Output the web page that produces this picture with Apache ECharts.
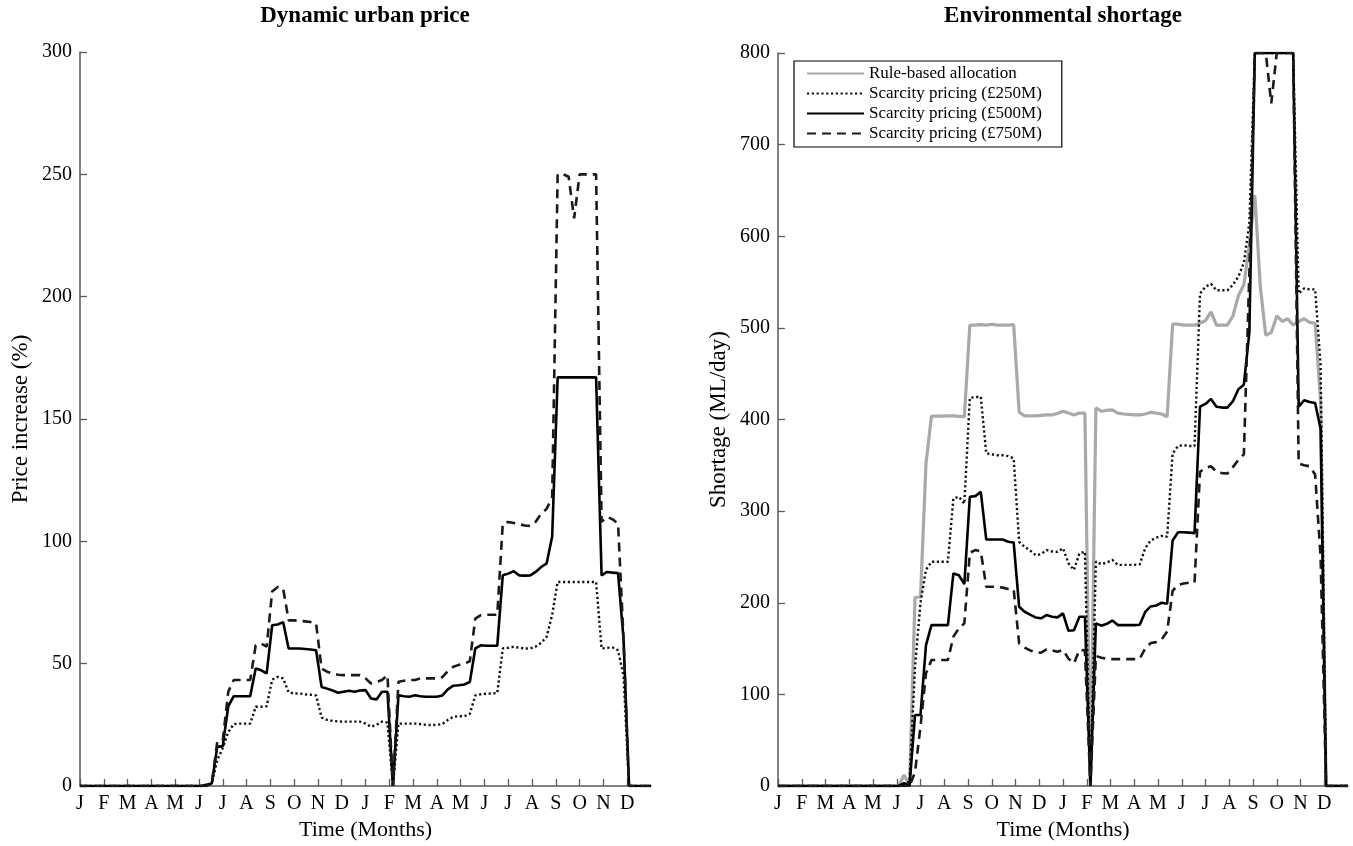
<!DOCTYPE html>
<html><head><meta charset="utf-8">
<script src="https://cdn.jsdelivr.net/npm/echarts@6/dist/echarts.min.js"></script>
<style>html,body{margin:0;padding:0;background:#fff}#c{width:1353px;height:846px}</style>
</head><body><div id="c"></div>
<script>
// ---- tick labels (month initials, two years) ----
const monthLabels = ['J','F','M','A','M','J','J','A','S','O','N','D','J','F','M','A','M','J','J','A','S','O','N','D'];
// ---- weekly sample index (104 weeks over 24 months) ----
const weekCount = 104;
const weekIndex = Array.from({length: weekCount + 1}, (_, i) => i);

// ---- Dynamic urban price (%) ----
const urban250 = [
 0,0,0,0,0,0,0,0,0,0, 0,0,0,0,0,0,0,0,0,0,
 0,0,0,0,1,10.6,15.5,22,25.3,25.5,
 25.5,25.5,32.4,32.4,32.6,43.5,44.6,44,38.3,37.8,
 37.8,37.5,37.3,37,28,27,26.6,26.4,26.3,26.3,
 26.3,26.3,25.5,24.2,25,26.3,25.9,0,25.5,25.5,
 25.5,25.5,25.3,25,24.9,25,25.3,27,28.3,28.5,
 28.5,29.5,37,37.5,37.7,37.8,38,56.2,56.5,56.9,
 56.5,56.2,56.2,57,58.5,61,70,83.4,83.4,83.4,
 83.4,83.4,83.4,83.4,83.4,56.2,56.5,56.6,55.5,45,
 0,0,0,0,0];
const urban500 = [
 0,0,0,0,0,0,0,0,0,0, 0,0,0,0,0,0,0,0,0,0,
 0,0,0,0.5,1,16,16.3,32.5,36.7,36.7,
 36.7,36.7,48,47.3,46,65.7,66,67,56.2,56.2,
 56.2,56,55.8,55.5,40.5,39.8,39,38.1,38.5,38.9,
 38.5,39,39.2,35.8,35.4,38.5,38.5,0,37.1,36.7,
 36.5,37.1,36.7,36.5,36.5,36.5,37,39.5,41,41.2,
 41.5,42.5,56.2,57.5,57.3,57.3,57.3,86.1,86.8,87.8,
 86.1,86,86.1,87.5,89.5,91,102,167,167,167,
 167,167,167,167,167,86.1,87.5,87.2,87,60,
 0,0,0,0,0];
const urban750 = [
 0,0,0,0,0,0,0,0,0,0, 0,0,0,0,0,0,0,0,0,0,
 0,0,0,0,1,18,18.5,38.5,43.3,43.3,
 43.3,43.3,57.5,58.2,57,79.5,81.3,80.7,67.7,67.7,
 67.5,67.3,67,66.5,48,46.7,46,45.5,45.3,45.3,
 45.3,45.3,44,41.9,42.5,43.3,45.3,0,42.6,43,
 43.3,43.3,44,44,44,44,44.5,47,48.7,49.5,
 50,51,68.4,69.8,70,70,70,107.2,107.9,107.5,
 107,106.5,106.3,108,111.3,113.3,118,250,250,249,
 232,250,250,250,250,108,110,109,107.2,60,
 0,0,0,0,0];

// ---- Environmental shortage (ML/day) ----
const envRule = [
 0,0,0,0,0,0,0,0,0,0, 0,0,0,0,0,0,0,0,0,0,
 0,0,0,12,1,206,206,352,403.6,403.6,
 403.6,404,404,403.5,403,503,503,503.5,503,504,
 503,503,503,503.5,408,404,404,404,404.5,405,
 405,406.5,409,407,405,407,407,0,412.6,409,
 410,410.5,407,406,405.5,405,405,406,408,407,
 406,403,504,504,503,503,503,505,508,517.5,
 503,503,503,513,535,547,590,645,545,492,
 495,513,507,510,503,507,510,506,505,420,
 0,0,0,0,0];
const env250 = [
 0,0,0,0,0,0,0,0,0,0, 0,0,0,0,0,0,0,0,0,0,
 0,0,0,2,5,130,200,236,244.7,244.7,
 244.7,244.7,313.8,315.6,308,423.6,424.5,424.7,363,362,
 361,361,360,357.5,266.5,261,257,252,253,257.5,
 256,255.6,259.5,243,235.8,254,255.7,0,245,242,
 244,246.7,241.3,241.3,241.3,241.3,242,259.5,268,271,
 273,272,363,371,372,371,371,537.5,545,548,
 541,541,541,547,556,571,615,800,800,800,
 800,800,800,800,800,537.5,543,542,542,460,
 0,0,0,0,0];
const env500 = [
 0,0,0,0,0,0,0,0,0,0, 0,0,0,0,0,0,0,0,0,0,
 0,0,0,3,0,77.5,77.5,153.8,175.6,175.6,
 175.6,175.6,232,230,220.4,315.6,316.4,321,269,269,
 269,269,266.5,265.8,195.6,190.2,187,184,183,186.5,
 184.7,184,188.4,169.4,170,184.8,184.8,0,177.5,175,
 177,180.5,175.6,175.6,175.6,175.6,176,190,196,197,
 200,199,268,277,277,276.5,276,414,417,422.5,
 414,413,413,420,433,438,495,800,800,800,
 800,800,800,800,800,414,421,419,418,390,
 0,0,0,0,0];
const env750 = [
 0,0,0,0,0,0,0,0,0,0, 0,0,0,0,0,0,0,0,0,0,
 0,0,0,0,0,15,65,123,137.5,137.5,
 137.5,137.5,163,172,177.5,254.5,257.5,256,217.5,217.5,
 217.5,216.5,215,214.5,155.6,151,148,146,145.5,149,
 148,146.5,148.4,139,133.8,148.5,148,0,142,140,
 139,138.5,138.5,138.5,138.5,138.5,139,150,156,157,
 160,168.5,213,219.5,221,222,222,343,347,349,
 343,341.5,341,348,356,362,560,800,800,800,
 745,800,800,800,800,352,350,349,340,250,
 0,0,0,0,0];

const seriesNames = ['Rule-based allocation','Scarcity pricing (£250M)','Scarcity pricing (£500M)','Scarcity pricing (£750M)'];

const FONT = "'Liberation Serif','Times New Roman',serif";
const AXIS_COLOR = '#5a5a5a';
const monthTicks = monthLabels.map((_, i) => i);

function pairs(vals) {
  return weekIndex.map((w, i) => [w * monthLabels.length / weekCount, vals[i]]);
}

const lineStyles = {
  rule: {color: '#a9a9a9', width: 3.2, type: 'solid'},
  p250: {color: '#111', width: 2.4, type: [2.2, 2.6], cap: 'butt'},
  p500: {color: '#000', width: 2.6, type: 'solid'},
  p750: {color: '#1a1a1a', width: 2.6, type: [9, 6], cap: 'butt'}
};

function mkSeries(name, vals, style, axisIdx, z) {
  return {
    type: 'line', name, data: pairs(vals), xAxisIndex: axisIdx, yAxisIndex: axisIdx,
    symbol: 'none', showSymbol: false, smooth: false, animation: false, z,
    lineStyle: style, itemStyle: {color: style.color}, emphasis: {disabled: true}
  };
}

function xAxisCfg(gridIndex) {
  return {
    type: 'value', gridIndex, min: 0, max: 24,
    axisLine: {show: true, onZero: false, lineStyle: {color: AXIS_COLOR, width: 1.5}},
    axisTick: {show: true, inside: true, length: 7, customValues: monthTicks, lineStyle: {color: AXIS_COLOR, width: 1.3}},
    axisLabel: {color: '#000', fontFamily: FONT, fontSize: 20, margin: 8, customValues: monthTicks,
      formatter: v => monthLabels[Math.round(v)] || ''},
    splitLine: {show: false},
    name: 'Time (Months)', nameLocation: 'middle', nameGap: 32,
    nameTextStyle: {color: '#000', fontFamily: FONT, fontSize: 22}
  };
}
function yAxisCfg(gridIndex, max, interval, name) {
  return {
    type: 'value', gridIndex, min: 0, max, interval,
    axisLine: {show: true, lineStyle: {color: AXIS_COLOR, width: 1.5}},
    axisTick: {show: true, inside: true, length: 7, lineStyle: {color: AXIS_COLOR, width: 1.3}},
    axisLabel: {color: '#000', fontFamily: FONT, fontSize: 20, margin: 8},
    splitLine: {show: false},
    name, nameLocation: 'middle', nameGap: 48,
    nameTextStyle: {color: '#000', fontFamily: FONT, fontSize: 23}
  };
}

const option = {
  backgroundColor: '#fff',
  animation: false,
  title: [
    {text: 'Dynamic urban price', left: 365, top: 5, textAlign: 'center', padding: 0,
     textStyle: {fontFamily: FONT, fontSize: 23, fontWeight: 'bold', color: '#000'}},
    {text: 'Environmental shortage', left: 1063, top: 5, textAlign: 'center', padding: 0,
     textStyle: {fontFamily: FONT, fontSize: 23, fontWeight: 'bold', color: '#000'}}
  ],
  legend: {
    data: seriesNames, orient: 'vertical', left: 794, top: 61,
    itemWidth: 57, itemHeight: 16, itemGap: 3,
    padding: [4, 20, 5, 12],
    borderColor: '#000', borderWidth: 1.2, backgroundColor: '#fff',
    selectedMode: false,
    itemStyle: {opacity: 0},
    textStyle: {fontFamily: FONT, fontSize: 17, color: '#000', lineHeight: 16}
  },
  grid: [
    {left: 80, right: 702, top: 52, bottom: 60},
    {left: 778, right: 5, top: 53, bottom: 60}
  ],
  xAxis: [xAxisCfg(0), xAxisCfg(1)],
  yAxis: [
    yAxisCfg(0, 300, 50, 'Price increase (%)'),
    yAxisCfg(1, 800, 100, 'Shortage (ML/day)')
  ],
  series: [
    mkSeries(seriesNames[1], urban250, lineStyles.p250, 0, 2),
    mkSeries(seriesNames[2], urban500, lineStyles.p500, 0, 3),
    mkSeries(seriesNames[3], urban750, lineStyles.p750, 0, 4),
    mkSeries(seriesNames[0], envRule, lineStyles.rule, 1, 1),
    mkSeries(seriesNames[1], env250, lineStyles.p250, 1, 2),
    mkSeries(seriesNames[2], env500, lineStyles.p500, 1, 3),
    mkSeries(seriesNames[3], env750, lineStyles.p750, 1, 4)
  ]
};
const chart = echarts.init(document.getElementById('c'));
chart.setOption(option);
</script>
</body></html>
